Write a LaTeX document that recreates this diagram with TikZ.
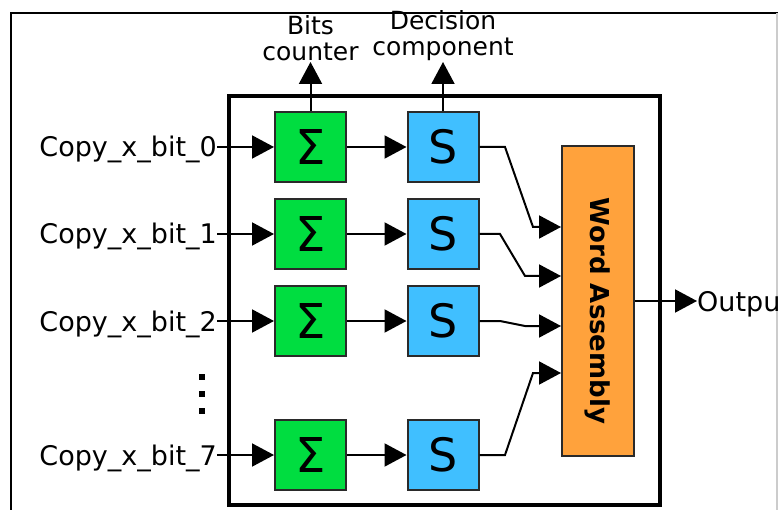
\documentclass[tikz,border=0pt]{standalone}
\usepackage{fontspec}
\setmainfont{DejaVu Sans}
\usetikzlibrary{arrows.meta}
\definecolor{sumgreen}{HTML}{00DD40}
\definecolor{decblue}{HTML}{40BFFF}
\definecolor{asmorange}{HTML}{FFA23C}
\definecolor{edgegray}{HTML}{2A2A2A}
\tikzset{
  blk/.style={draw=edgegray, line width=2pt, minimum width=71pt, minimum height=70pt, inner sep=0pt},
  sumblk/.style={blk, fill=sumgreen, font=\fontsize{48}{48}\selectfont},
  decblk/.style={blk, fill=decblue, font=\fontsize{46}{46}\selectfont},
  arr/.style={line width=2pt, -{Triangle[length=22pt,width=23pt]}},
  lbl/.style={font=\fontsize{25}{26}\selectfont, inner sep=0pt},
  inlbl/.style={font=\fontsize{27}{27}\selectfont, inner sep=0pt},
}
\begin{document}
\begin{tikzpicture}[x=1pt,y=-1pt]
\useasboundingbox (0,0) rectangle (778,510);
% outer frame
\draw[line width=2.2pt] (11,520) -- (11,13) -- (778,13);
\draw[line width=1.5pt, gray!40] (777,13) -- (777,520);
% enclosing block
\draw[line width=3.5pt] (229,96) rectangle (660,505);

% adder and decision blocks, one per bit
\foreach \i/\y in {0/147,1/234,2/321,7/455}{
  \node[sumblk] (g\i) at (310.5,\y) {Σ};
  \node[decblk] (s\i) at (443,\y) {S};
  \node[inlbl, anchor=base east] (in\i) at (217,\y+10) {Copy\_x\_bit\_\i};
  \draw[arr] (in\i.east |- g\i.west) -- (g\i.west);
  \draw[arr] (g\i.east) -- (s\i.west);
}

% vertical ellipsis between bit 2 and bit 7
\foreach \y in {377,394,411}
  \fill (199,\y-3) rectangle (205,\y+3);

% word assembly block
\node[draw=edgegray, line width=2pt, fill=asmorange, minimum width=72pt, minimum height=310pt, inner sep=0pt,
      font=\fontsize{26}{26}\selectfont\bfseries] (wa) at (598,301) {\rotatebox{-90}{\hspace{20pt}Word Assembly}};

% routing from decision blocks into word assembly
\draw[arr] (s0.east) -- (505,147) -- (533,227) -- (wa.west |- 0,227);
\draw[arr] (s1.east) -- (500,234) -- (525,276) -- (wa.west |- 0,276);
\draw[arr] (s2.east) -- (500,321) -- (525,326) -- (wa.west |- 0,326);
\draw[arr] (s7.east) -- (505,455) -- (533,373) -- (wa.west |- 0,373);

% output
\node[inlbl, anchor=base west] (out) at (697,312) {Output};
\draw[arr] (wa.east |- 0,301) -- (out.west |- 0,301);

% monitoring outputs
\node[lbl, align=center, anchor=south, inner sep=1pt] (bits) at (310.5,62) {Bits\\counter};
\node[lbl, align=center, anchor=south, inner sep=1pt] (dec) at (443,62) {Decision\\component};
\draw[arr] (g0.north) -- (bits.south);
\draw[arr] (s0.north) -- (dec.south);
\end{tikzpicture}
\end{document}
